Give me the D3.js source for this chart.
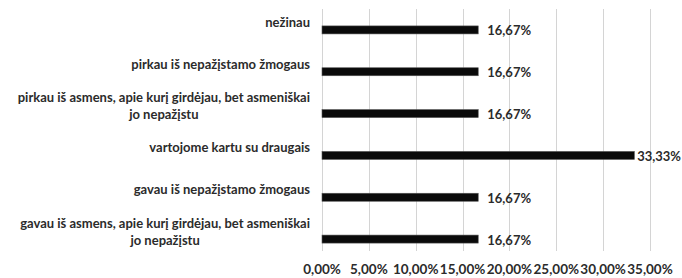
<html>
  <head>
    <title>Bar Chart</title>
    <script type="text/javascript" src="https://cdn.jsdelivr.net/npm/d3@7"></script>
    <style type="text/css">

body {
  margin: 0;
  background: #fff;
}

text {
  font-family: Lato, sans-serif;
  font-weight: bold;
  fill: #2b2b2b;
}

    </style>
  </head>
  <body>
    <script type="text/javascript">

var categories = [
  "nežinau",
  "pirkau iš nepažįstamo žmogaus",
  "pirkau iš asmens, apie kurį girdėjau, bet asmeniškai\njo nepažįstu",
  "vartojome kartu su draugais",
  "gavau iš nepažįstamo žmogaus",
  "gavau iš asmens, apie kurį girdėjau, bet asmeniškai\njo nepažįstu"
];

var values = [0.1667, 0.1667, 0.1667, 0.3333, 0.1667, 0.1667];

var ticks = [0, 0.05, 0.10, 0.15, 0.20, 0.25, 0.30, 0.35];

var w = 682,
    h = 278,
    plotTop = 9,
    plotBottom = 251,
    plotLeft = 322,
    plotRight = 650;

var locale = d3.formatLocale({decimal: ",", thousands: " ", grouping: [3], currency: ["", ""]}),
    pct = locale.format(".2%");

var x = d3.scaleLinear()
    .domain([0, 0.35])
    .range([plotLeft, plotRight]);

var y = d3.scaleBand()
    .domain(categories)
    .range([plotTop, 260]);

var vis = d3.select("body")
  .append("svg")
    .attr("width", w)
    .attr("height", h);

// grid lines
vis.selectAll("line.grid")
    .data(ticks)
  .enter().append("line")
    .attr("class", "grid")
    .attr("x1", function(d) { return Math.round(x(d)) + .5; })
    .attr("x2", function(d) { return Math.round(x(d)) + .5; })
    .attr("y1", plotTop)
    .attr("y2", plotBottom)
    .attr("stroke", "#d4d4d4")
    .attr("stroke-width", 1);

// tick labels
vis.selectAll("text.tick")
    .data(ticks)
  .enter().append("text")
    .attr("class", "tick")
    .attr("x", x)
    .attr("y", 269)
    .attr("dy", ".35em")
    .attr("text-anchor", "middle")
    .style("font-size", "13.5px")
    .text(pct);

// bars
vis.selectAll("rect.bar")
    .data(values)
  .enter().append("rect")
    .attr("class", "bar")
    .attr("x", x(0))
    .attr("y", function(d, i) { return y(categories[i]) + y.bandwidth() / 2 - 4; })
    .attr("width", function(d) { return x(d) - x(0); })
    .attr("height", 8)
    .attr("fill", "#0a0a0a")
    .attr("stroke", "#555")
    .attr("stroke-width", .6);

// value labels, pulled back in if they would run off the right edge
vis.selectAll("text.value")
    .data(values)
  .enter().append("text")
    .attr("class", "value")
    .attr("y", function(d, i) { return y(categories[i]) + y.bandwidth() / 2 + 1; })
    .attr("dy", ".35em")
    .style("font-size", "13px")
    .text(pct)
    .attr("x", function(d) {
      return Math.min(x(d) + 9, w - 1 - this.getComputedTextLength());
    });

// category labels, multi-line centred on the widest line
var labels = vis.selectAll("g.label")
    .data(categories)
  .enter().append("g")
    .attr("class", "label");

labels.each(function(d) {
  var g = d3.select(this),
      lines = d.split("\n"),
      lh = 17,
      cy = y(d) + y.bandwidth() / 2 - 7.5,
      y0 = cy - (lines.length - 1) * lh / 2;
  var t = g.selectAll("text")
      .data(lines)
    .enter().append("text")
      .attr("y", function(s, i) { return y0 + i * lh; })
      .attr("dy", ".35em")
      .attr("text-anchor", "middle")
      .style("font-size", "13px")
      .text(function(s) { return s; });
  var mw = d3.max(t.nodes(), function(n) { return n.getComputedTextLength(); });
  t.attr("x", 310 - mw / 2);
});

    </script>
  </body>
</html>
